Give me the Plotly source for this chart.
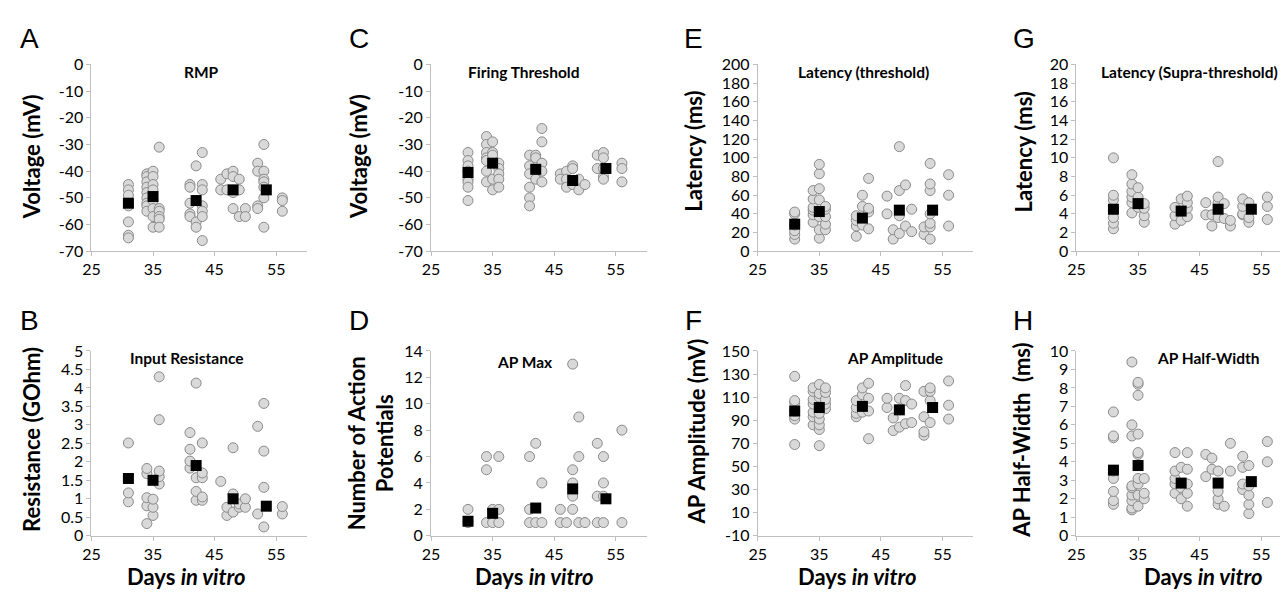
import plotly.graph_objects as go

# The page body has a default 8px margin, so the figure is drawn 8px in from the
# window edge; positions below are window pixels and are converted accordingly.
OFF = 8
W, H = 1288 - OFF, 598 - OFF

DAYS = [31, 34, 35, 36, 41, 42, 43, 46, 47, 48, 49, 50, 52, 53, 56]
MEAN_DAYS = [31, 35, 42, 48, 53.4]

RMP = [
    [-45, -47, -49, -53, -59, -64, -65],
    [-41, -42, -44, -46, -48, -50, -52, -53, -55],
    [-40, -42, -45, -47, -51, -54, -57, -61],
    [-31, -54, -55, -57, -58, -61],
    [-45, -46, -52, -56, -57],
    [-38, -59, -61],
    [-33, -45, -47, -53, -55, -57, -66],
    [-43, -47],
    [-41, -47],
    [-40, -42, -48, -54],
    [-43, -47, -57],
    [-54, -57],
    [-37, -40, -53, -54],
    [-30, -40, -43, -44, -46, -50, -61],
    [-50, -51, -55],
]
RMP_MEAN = [-52, -49.5, -51, -47, -47]

THRESH = [
    [-33, -36, -38, -40, -43, -44, -46, -51],
    [-27, -30, -33, -35, -36, -40, -44],
    [-29, -33, -34, -43, -47],
    [-37, -39, -41, -43, -46],
    [-34, -38, -41, -46, -50, -53],
    [-34, -35, -43],
    [-24, -29, -37, -40, -44],
    [-41, -43],
    [-40, -43, -46],
    [-38, -39, -45],
    [-43, -47],
    [-45],
    [-34, -39],
    [-33, -35, -39, -42, -43],
    [-37, -39, -44],
]
THRESH_MEAN = [-40.5, -37, -39.3, -43.5, -39]

LAT_T = [
    [13, 18, 22, 28, 40, 42],
    [31, 39, 44, 47, 56, 65],
    [14, 23, 37, 55, 67, 83, 93],
    [23, 29, 37, 45, 48],
    [16, 27, 33, 38],
    [28, 48, 60],
    [24, 42, 46, 78],
    [40, 59],
    [13, 23],
    [19, 38, 65, 112],
    [27, 71],
    [21, 45],
    [18, 26],
    [13, 26, 30, 40, 65, 72, 94],
    [27, 60, 82],
]
LAT_T_MEAN = [29, 42.5, 35.5, 44, 44]

LAT_S = [
    [2.4, 3.0, 3.6, 4.5, 5.5, 6.0, 10.0],
    [4.1, 5.2, 5.8, 6.4, 7.2, 8.2],
    [4.7, 5.8, 6.8],
    [3.1, 3.8, 4.6, 5.1],
    [2.9, 3.8, 4.7],
    [3.3, 5.6],
    [3.7, 4.6, 5.2, 5.9],
    [3.9, 5.2],
    [2.7, 3.9],
    [3.6, 5.2, 5.8, 9.6],
    [3.5, 5.1],
    [2.7, 3.3],
    [3.9, 4.0, 4.8, 5.6],
    [3.1, 3.6, 5.2],
    [3.4, 4.8, 5.8],
]
LAT_S_MEAN = [4.5, 5.1, 4.3, 4.5, 4.5]

RES = [
    [0.92, 1.16, 2.51],
    [0.33, 0.81, 1.03, 1.68, 1.82],
    [0.55, 0.77, 0.99],
    [1.4, 1.6, 1.75, 3.14, 4.3],
    [1.83, 2.02, 2.34, 2.79],
    [0.96, 1.2, 1.57, 4.13],
    [0.96, 1.05, 1.57, 1.7, 2.51],
    [1.47],
    [0.55, 0.77],
    [0.64, 1.13, 2.38],
    [0.77, 0.86],
    [0.77, 1.0],
    [0.59, 2.96],
    [0.24, 1.31, 2.29, 3.58],
    [0.59, 0.79],
]
RES_MEAN = [1.55, 1.5, 1.9, 1.0, 0.8]

APMAX = [
    [1, 2],
    [1, 5, 6],
    [1, 2],
    [1, 2, 6],
    [1, 2, 6],
    [1, 7],
    [1, 4],
    [1, 2],
    [1],
    [2, 3, 4, 5, 13],
    [1, 6, 9],
    [1],
    [1, 3, 7],
    [1, 3, 4, 6],
    [1, 8],
]
APMAX_MEAN = [1.1, 1.7, 2.1, 3.55, 2.8]

AMP = [
    [69, 91, 94, 98, 105, 107, 128],
    [86, 93, 97, 104, 108, 115, 118],
    [68, 82, 86, 91, 96, 110, 113, 121],
    [100, 104, 108, 114, 118],
    [93, 96, 101, 107],
    [97, 112, 118],
    [74, 98, 109, 122],
    [101, 109],
    [81, 92],
    [84, 99, 109],
    [87, 107, 120],
    [88, 104],
    [77, 80, 93, 115],
    [88, 107, 115, 118],
    [91, 103, 124],
]
AMP_MEAN = [98, 101, 102, 99, 101]

HW = [
    [1.7, 1.9, 2.4, 3.1, 3.5, 5.3, 5.4, 6.7],
    [1.4, 1.5, 1.9, 2.2, 2.6, 2.7, 5.4, 6.0, 9.4],
    [1.6, 2.2, 2.8, 3.1, 4.4, 4.5, 5.5, 7.6, 8.2, 8.3],
    [2.0, 2.3, 3.1],
    [2.3, 2.8, 3.1, 3.5, 4.5],
    [2.0, 2.6, 3.7],
    [1.6, 2.3, 2.8, 3.6, 4.5],
    [3.2, 4.4],
    [3.6, 4.2],
    [1.7, 2.0, 2.4, 3.5],
    [1.6],
    [3.5, 5.0],
    [2.5, 2.8, 3.7, 4.3],
    [1.2, 1.7, 2.2, 2.7, 3.8],
    [1.8, 4.0, 5.1],
]
HW_MEAN = [3.55, 3.8, 2.85, 2.85, 2.93]

X_TICKS = [25, 35, 45, 55]

PANELS = [
    dict(letter="A", title="RMP", data=RMP, mean=RMP_MEAN,
         yticks=list(range(-70, 1, 10)), yrange=[-70, 0],
         ytitle="Voltage (mV)", x0=83, x1=300, y0=56, y1=249,
         tpos=(194, 64), ytpos=(23, 151), lpos=(21, 29), xt=None),
    dict(letter="C", title="Firing Threshold", data=THRESH, mean=THRESH_MEAN,
         yticks=list(range(-70, 1, 10)), yrange=[-70, 0],
         ytitle="Voltage (mV)", x0=425, x1=642, y0=56, y1=249,
         tpos=(518, 64), ytpos=(352, 151), lpos=(352, 29), xt=None),
    dict(letter="E", title="Latency (threshold)", data=LAT_T, mean=LAT_T_MEAN,
         yticks=list(range(0, 201, 20)), yrange=[0, 200],
         ytitle="Latency (ms)", x0=754, x1=971, y0=56, y1=249,
         tpos=(860, 64), ytpos=(689, 146), lpos=(689, 29), xt=None),
    dict(letter="G", title="Latency (Supra-threshold)", data=LAT_S, mean=LAT_S_MEAN,
         yticks=list(range(0, 21, 2)), yrange=[0, 20],
         ytitle="Latency (ms)", x0=1075, x1=1288, y0=56, y1=249,
         tpos=(1189, 64), ytpos=(1022, 146), lpos=(1022, 29), xt=None),
    dict(letter="B", title="Input Resistance", data=RES, mean=RES_MEAN,
         yticks=[0, 0.5, 1, 1.5, 2, 2.5, 3, 3.5, 4, 4.5, 5], yrange=[0, 5],
         ytitle="Resistance (GOhm)", x0=83, x1=300, y0=352, y1=543,
         tpos=(179, 359), ytpos=(23, 443), lpos=(21, 321), xt=(179, 585)),
    dict(letter="D", title="AP Max", data=APMAX, mean=APMAX_MEAN,
         yticks=list(range(0, 15, 2)), yrange=[0, 14],
         ytitle="Number of Action<br>Potentials", x0=425, x1=642, y0=352, y1=543,
         tpos=(520, 363), ytpos=(364, 447), lpos=(352, 321), xt=(529, 585)),
    dict(letter="F", title="AP Amplitude", data=AMP, mean=AMP_MEAN,
         yticks=list(range(-10, 151, 20)), yrange=[-10, 150],
         ytitle="AP Amplitude (mV)", x0=754, x1=971, y0=352, y1=543,
         tpos=(892, 359), ytpos=(692, 435), lpos=(689, 321), xt=(854, 585)),
    dict(letter="H", title="AP Half-Width", data=HW, mean=HW_MEAN,
         yticks=list(range(0, 11, 1)), yrange=[0, 10],
         ytitle="AP Half-Width  (ms)", x0=1075, x1=1288, y0=352, y1=543,
         tpos=(1208, 359), ytpos=(1020, 444), lpos=(1021, 321), xt=(1203, 585)),
]

FONT = "Lato, 'Open Sans', sans-serif"
AXIS_GRAY = "#bfbfbf"


def px(x):
    return (x - OFF) / W


def py(y):
    return 1 - (y - OFF) / H


fig = go.Figure()
annotations = []
layout_axes = {}

for i, p in enumerate(PANELS, start=1):
    xs, ys = [], []
    for d, vals in zip(DAYS, p["data"]):
        for v in vals:
            xs.append(d)
            ys.append(v)
    xa = "x" if i == 1 else f"x{i}"
    ya = "y" if i == 1 else f"y{i}"
    fig.add_trace(go.Scatter(
        x=xs, y=ys, mode="markers", xaxis=xa, yaxis=ya, cliponaxis=False,
        marker=dict(symbol="circle", size=10, color="#d9d9d9",
                    line=dict(color="#8a8a8a", width=1)),
        showlegend=False, hoverinfo="x+y"))
    fig.add_trace(go.Scatter(
        x=MEAN_DAYS, y=p["mean"], mode="markers", xaxis=xa, yaxis=ya, cliponaxis=False,
        marker=dict(symbol="square", size=11, color="#000000",
                    line=dict(color="#000000", width=0)),
        showlegend=False, hoverinfo="x+y"))

    xmax = 25 + (p["x1"] - p["x0"]) / 6.2
    common = dict(showgrid=False, zeroline=False, showline=True, linecolor=AXIS_GRAY,
                  linewidth=1, ticks="outside", ticklen=4, tickcolor=AXIS_GRAY,
                  tickfont=dict(family=FONT, size=16, color="#000000"),
                  fixedrange=True)
    layout_axes["xaxis" if i == 1 else f"xaxis{i}"] = dict(
        domain=[px(p["x0"]), min(1.0, px(p["x1"]))], range=[25, xmax],
        anchor=ya, tickmode="array", tickvals=X_TICKS,
        ticktext=[str(t) for t in X_TICKS], **common)
    layout_axes["yaxis" if i == 1 else f"yaxis{i}"] = dict(
        domain=[py(p["y1"]), py(p["y0"])], range=p["yrange"], anchor=xa,
        tickmode="array", tickvals=p["yticks"],
        ticktext=["%g" % t for t in p["yticks"]], **common)

    annotations.append(dict(text=p["letter"], x=px(p["lpos"][0]), y=py(p["lpos"][1]),
                            xref="paper", yref="paper", showarrow=False,
                            xanchor="center", yanchor="middle",
                            font=dict(family="Liberation Sans, Arial", size=28, color="#000")))
    annotations.append(dict(text="<b>%s</b>" % p["title"], x=px(p["tpos"][0]), y=py(p["tpos"][1]),
                            xref="paper", yref="paper", showarrow=False,
                            xanchor="center", yanchor="middle",
                            font=dict(family=FONT, size=15.5, color="#000")))
    annotations.append(dict(text="<b>%s</b>" % p["ytitle"], x=px(p["ytpos"][0]), y=py(p["ytpos"][1]),
                            xref="paper", yref="paper", showarrow=False, textangle=-90,
                            xanchor="center", yanchor="middle",
                            font=dict(family=FONT, size=22, color="#000")))
    if p["xt"]:
        annotations.append(dict(text="<b>Days <i>in vitro</i></b>", x=px(p["xt"][0]), y=py(p["xt"][1]),
                                xref="paper", yref="paper", showarrow=False,
                                xanchor="center", yanchor="middle",
                                font=dict(family=FONT, size=22, color="#000")))

fig.update_layout(
    width=W, height=H, margin=dict(l=0, r=0, t=0, b=0),
    paper_bgcolor="white", plot_bgcolor="white",
    annotations=annotations, showlegend=False, **layout_axes)

fig.write_html("out.html")
